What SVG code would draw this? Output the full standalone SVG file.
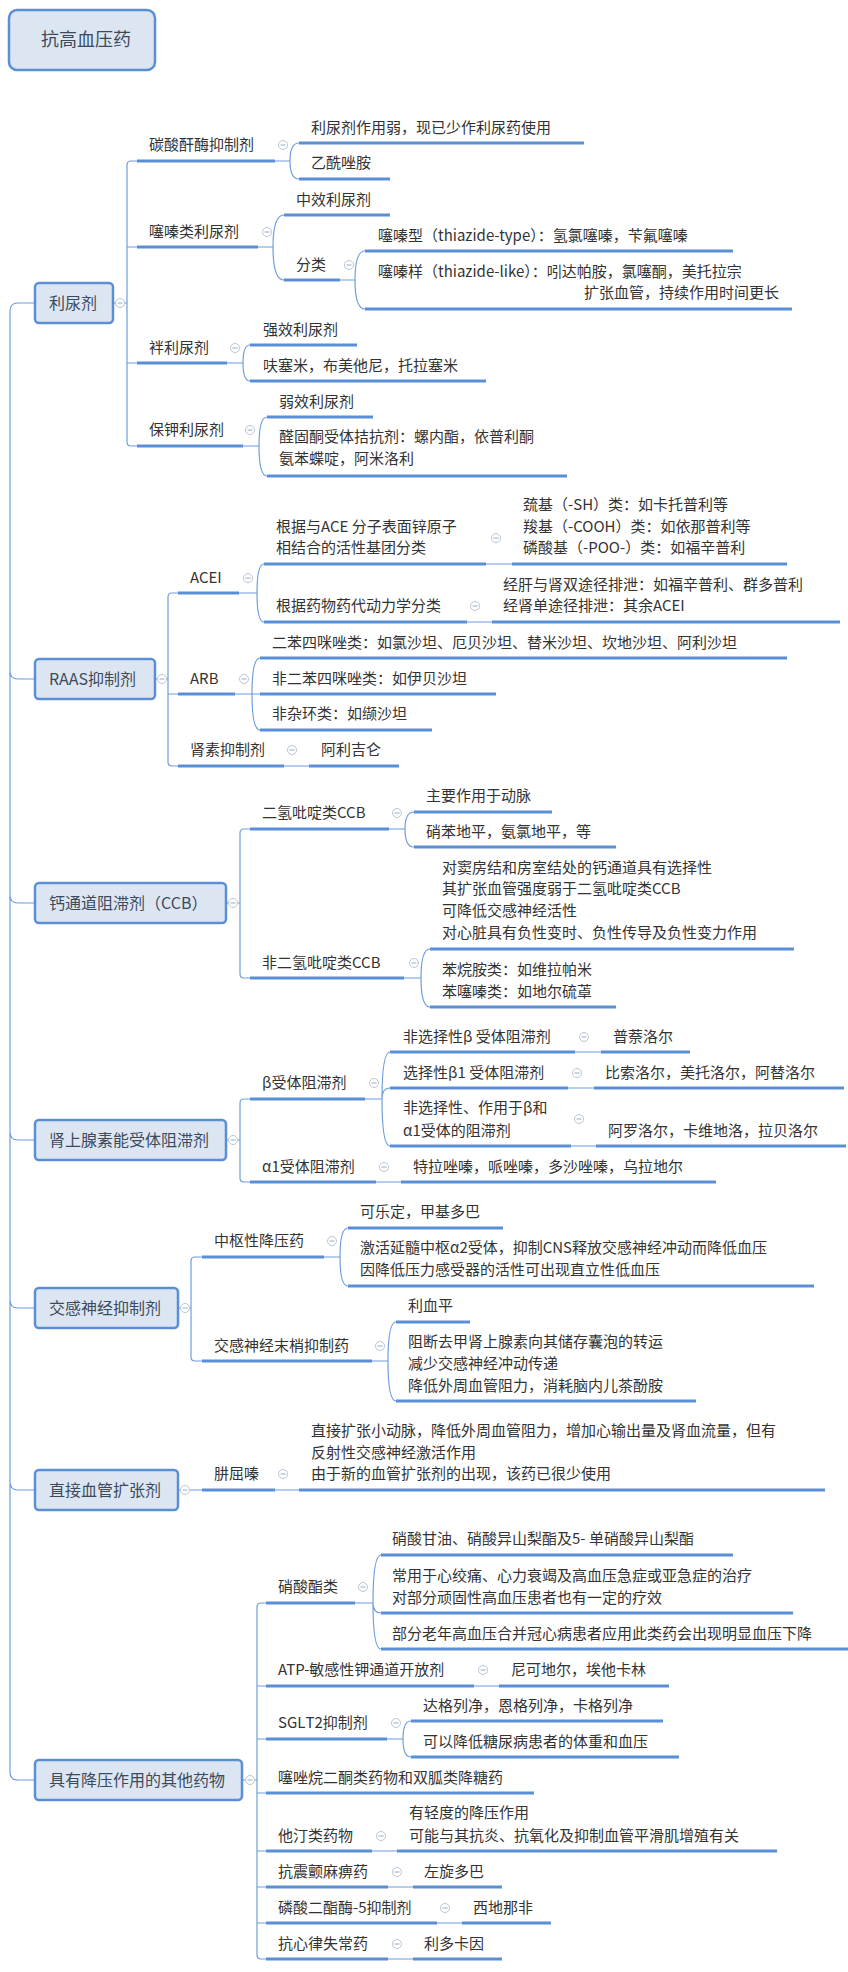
<svg xmlns="http://www.w3.org/2000/svg" width="848" height="1972" viewBox="0 0 848 1972">
<style>
text{font-family:"Noto Sans CJK SC","Liberation Sans",sans-serif;font-size:15px;fill:#333}
.b{font-size:16px;fill:#3c4a5c}
.r{font-size:18px;fill:#3c4a5c}
.box{fill:#dce6f2;stroke:#5a8fd6;stroke-width:2.5}
.u{stroke:#5a8fd6;stroke-width:3;fill:none}
.c{stroke:#6f9ddb;stroke-width:1.2;fill:none}
.k circle{fill:#fff;stroke:#b8c6d8;stroke-width:1}
.k line{stroke:#9aaabd;stroke-width:1}
</style>
<defs>
<g id="m" class="k"><circle r="4.5"/><line x1="-2.5" x2="2.5" y1="0" y2="0"/></g>
</defs>
<rect width="848" height="1972" fill="#fff"/>
<g id="root"><rect class="box" x="9" y="10" width="146" height="60" rx="8" stroke-width="3.5"/><text class="r" x="41" y="46">抗高血压药</text></g>

<g id="connectors">
<path class="c" d="M35,303 H18 Q10,303 10,311 V1772 Q10,1780 18,1780 H35 M10,671 Q10,679 18,679 H35 M10,895 Q10,903 18,903 H35 M10,1132 Q10,1140 18,1140 H35 M10,1300 Q10,1308 18,1308 H35 M10,1482 Q10,1490 18,1490 H35"/>
<!-- diuretics -->
<path class="c" d="M113,303 H127 M137,161 H131 Q127,161 127,165 V442 Q127,446 131,446 H137 M127,247 H137 M127,363 H137"/>
<path class="c" d="M275,161 H290 Q290,143 299,143 M290,161 Q290,179 299,179"/>
<path class="c" d="M258,247 H273 Q273,215 284,215 M273,247 Q273,280 284,280"/>
<path class="c" d="M340,280 H355 Q355,251 365,251 M355,280 Q355,309 365,309"/>
<path class="c" d="M227,363 H243 Q243,345 250,345 M243,363 Q243,381 250,381"/>
<path class="c" d="M243,446 H259 Q259,417 267,417 M259,446 Q259,476 267,476"/>
<!-- RAAS -->
<path class="c" d="M155,679 H168 M178,593 H172 Q168,593 168,597 V762 Q168,766 172,766 H178 M168,694 H178"/>
<path class="c" d="M239,593 H257 Q257,564 264,564 M257,593 Q257,622 264,622 M486,564 H512 M467,622 H492"/>
<path class="c" d="M235,694 H260 M252,694 Q252,658 260,658 M252,694 Q252,730 260,730 M284,766 H309"/>
<!-- CCB -->
<path class="c" d="M226,903 H240 M250,829 H244 Q240,829 240,833 V974 Q240,978 244,978 H250"/>
<path class="c" d="M389,829 H405 Q405,812 414,812 M405,829 Q405,847 414,847"/>
<path class="c" d="M404,978 H421 Q421,949 430,949 M421,978 Q421,1007 430,1007"/>
<!-- adrenergic -->
<path class="c" d="M226,1140 H240 M250,1099 H244 Q240,1099 240,1103 V1178 Q240,1182 244,1182 H250"/>
<path class="c" d="M365,1099 H382 Q382,1052 390,1052 M382,1099 Q382,1088 390,1088 M382,1099 Q382,1146 390,1146"/>
<path class="c" d="M575,1052 H601 M568,1088 H594 M571,1146 H596 M376,1182 H401"/>
<!-- sympathetic -->
<path class="c" d="M178,1308 H191 M202,1257 H195 Q191,1257 191,1261 V1357 Q191,1361 195,1361 H202"/>
<path class="c" d="M324,1257 H340 Q340,1228 348,1228 M340,1257 Q340,1286 348,1286"/>
<path class="c" d="M372,1361 H388 Q388,1322 396,1322 M388,1361 Q388,1401 396,1401"/>
<!-- vasodilator -->
<path class="c" d="M178,1490 H202 M275,1490 H299"/>
<!-- others -->
<path class="c" d="M242,1780 H257 M266,1603 H261 Q257,1603 257,1607 V1955 Q257,1959 261,1959 H266 M257,1686 H266 M257,1739 H266 M257,1793 H266 M257,1851 H266 M257,1887 H266 M257,1923 H266"/>
<path class="c" d="M355,1603 H373 Q373,1555 381,1555 M373,1603 Q373,1613 381,1613 M373,1603 Q373,1649 381,1649"/>
<path class="c" d="M474,1686 H499 M387,1739 H403 Q403,1721 411,1721 M403,1739 Q403,1757 411,1757 M372,1851 H397 M388,1887 H413 M437,1923 H462 M388,1959 H413"/>
</g>

<g id="n-diuretic"><rect class="box" x="35" y="283" width="78" height="40" rx="4"/><text class="b" x="49" y="309">利尿剂</text><use href="#m" x="120" y="303"/></g>
<g id="n-cai"><path class="u" d="M137,161 H275"/><text x="149" y="150">碳酸酐酶抑制剂</text><use href="#m" x="283" y="145"/>
<path class="u" d="M299,143 H584"/><text x="311" y="133">利尿剂作用弱，现已少作利尿药使用</text>
<path class="u" d="M299,179 H390"/><text x="311" y="168">乙酰唑胺</text></g>
<g id="n-thiazide"><path class="u" d="M137,247 H258"/><text x="149" y="237">噻嗪类利尿剂</text><use href="#m" x="267" y="232"/>
<path class="u" d="M284,215 H390"/><text x="296" y="205">中效利尿剂</text>
<path class="u" d="M284,280 H340"/><text x="296" y="270">分类</text><use href="#m" x="349" y="265"/>
<path class="u" d="M365,251 H733"/><text x="378" y="241">噻嗪型（thiazide-type）：氢氯噻嗪，苄氟噻嗪</text>
<path class="u" d="M365,309 H792"/><text x="378" y="277">噻嗪样（thiazide-like）：吲达帕胺，氯噻酮，美托拉宗</text><text x="779" y="298" text-anchor="end">扩张血管，持续作用时间更长</text></g>
<g id="n-loop"><path class="u" d="M137,363 H227"/><text x="149" y="353">袢利尿剂</text><use href="#m" x="235" y="348"/>
<path class="u" d="M250,345 H357"/><text x="263" y="335">强效利尿剂</text>
<path class="u" d="M250,381 H486"/><text x="263" y="371">呋塞米，布美他尼，托拉塞米</text></g>
<g id="n-ksparing"><path class="u" d="M137,446 H243"/><text x="149" y="435">保钾利尿剂</text><use href="#m" x="250" y="430"/>
<path class="u" d="M267,417 H373"/><text x="279" y="407">弱效利尿剂</text>
<path class="u" d="M267,476 H567"/><text x="279" y="442">醛固酮受体拮抗剂：螺内酯，依普利酮</text><text x="279" y="464">氨苯蝶啶，阿米洛利</text></g>

<g id="n-raas"><rect class="box" x="35" y="659" width="120" height="40" rx="4"/><text class="b" x="49" y="685">RAAS抑制剂</text><use href="#m" x="162" y="679"/></g>
<g id="n-acei"><path class="u" d="M178,593 H239"/><text x="190" y="583">ACEI</text><use href="#m" x="248" y="578"/>
<path class="u" d="M264,564 H486"/><text x="276" y="532">根据与ACE 分子表面锌原子</text><text x="276" y="553">相结合的活性基团分类</text><use href="#m" x="496" y="538"/>
<path class="u" d="M512,564 H787"/><text x="523" y="510">巯基（-SH）类：如卡托普利等</text><text x="523" y="532">羧基（-COOH）类：如依那普利等</text><text x="523" y="553">磷酸基（-POO-）类：如福辛普利</text>
<path class="u" d="M264,622 H467"/><text x="276" y="611">根据药物药代动力学分类</text><use href="#m" x="475" y="606"/>
<path class="u" d="M492,622 H840"/><text x="503" y="590">经肝与肾双途径排泄：如福辛普利、群多普利</text><text x="503" y="611">经肾单途径排泄：其余ACEI</text></g>
<g id="n-arb"><path class="u" d="M178,694 H235"/><text x="190" y="684">ARB</text><use href="#m" x="244" y="679"/>
<path class="u" d="M260,658 H787"/><text x="272" y="648">二苯四咪唑类：如氯沙坦、厄贝沙坦、替米沙坦、坎地沙坦、阿利沙坦</text>
<path class="u" d="M260,694 H496"/><text x="272" y="684">非二苯四咪唑类：如伊贝沙坦</text>
<path class="u" d="M260,730 H432"/><text x="272" y="719">非杂环类：如缬沙坦</text></g>
<g id="n-renin"><path class="u" d="M178,766 H284"/><text x="190" y="755">肾素抑制剂</text><use href="#m" x="292" y="750"/>
<path class="u" d="M309,766 H399"/><text x="321" y="755">阿利吉仑</text></g>

<g id="n-ccb"><rect class="box" x="35" y="883" width="191" height="40" rx="4"/><text class="b" x="49" y="909">钙通道阻滞剂（CCB）</text><use href="#m" x="233" y="903"/></g>
<g id="n-dhp"><path class="u" d="M250,829 H389"/><text x="262" y="818">二氢吡啶类CCB</text><use href="#m" x="397" y="813"/>
<path class="u" d="M414,812 H552"/><text x="426" y="801">主要作用于动脉</text>
<path class="u" d="M414,847 H616"/><text x="426" y="837">硝苯地平，氨氯地平，等</text></g>
<g id="n-ndhp"><path class="u" d="M250,978 H404"/><text x="262" y="968">非二氢吡啶类CCB</text><use href="#m" x="414" y="963"/>
<path class="u" d="M430,949 H794"/><text x="442" y="873">对窦房结和房室结处的钙通道具有选择性</text><text x="442" y="894">其扩张血管强度弱于二氢吡啶类CCB</text><text x="442" y="916">可降低交感神经活性</text><text x="442" y="938">对心脏具有负性变时、负性传导及负性变力作用</text>
<path class="u" d="M430,1007 H616"/><text x="442" y="975">苯烷胺类：如维拉帕米</text><text x="442" y="997">苯噻嗪类：如地尔硫䓬</text></g>

<g id="n-adr"><rect class="box" x="35" y="1120" width="191" height="40" rx="4"/><text class="b" x="49" y="1146">肾上腺素能受体阻滞剂</text><use href="#m" x="233" y="1140"/></g>
<g id="n-beta"><path class="u" d="M250,1099 H365"/><text x="262" y="1088">β受体阻滞剂</text><use href="#m" x="374" y="1083"/>
<path class="u" d="M390,1052 H575"/><text x="403" y="1042">非选择性β 受体阻滞剂</text><use href="#m" x="584" y="1037"/>
<path class="u" d="M601,1052 H690"/><text x="613" y="1042">普萘洛尔</text>
<path class="u" d="M390,1088 H568"/><text x="403" y="1078">选择性β1 受体阻滞剂</text><use href="#m" x="577" y="1073"/>
<path class="u" d="M594,1088 H844"/><text x="605" y="1078">比索洛尔，美托洛尔，阿替洛尔</text>
<path class="u" d="M390,1146 H571"/><text x="403" y="1113">非选择性、作用于β和</text><text x="403" y="1136">α1受体的阻滞剂</text><use href="#m" x="579" y="1119"/>
<path class="u" d="M596,1146 H846"/><text x="608" y="1136">阿罗洛尔，卡维地洛，拉贝洛尔</text></g>
<g id="n-alpha"><path class="u" d="M250,1182 H376"/><text x="262" y="1172">α1受体阻滞剂</text><use href="#m" x="384" y="1167"/>
<path class="u" d="M401,1182 H716"/><text x="413" y="1172">特拉唑嗪，哌唑嗪，多沙唑嗪，乌拉地尔</text></g>

<g id="n-symp"><rect class="box" x="35" y="1288" width="143" height="40" rx="4"/><text class="b" x="49" y="1314">交感神经抑制剂</text><use href="#m" x="185" y="1308"/></g>
<g id="n-central"><path class="u" d="M202,1257 H324"/><text x="214" y="1246">中枢性降压药</text><use href="#m" x="332" y="1241"/>
<path class="u" d="M348,1228 H503"/><text x="360" y="1217">可乐定，甲基多巴</text>
<path class="u" d="M348,1286 H814"/><text x="360" y="1253">激活延髓中枢α2受体，抑制CNS释放交感神经冲动而降低血压</text><text x="360" y="1275">因降低压力感受器的活性可出现直立性低血压</text></g>
<g id="n-periph"><path class="u" d="M202,1361 H372"/><text x="214" y="1351">交感神经末梢抑制药</text><use href="#m" x="380" y="1346"/>
<path class="u" d="M396,1322 H470"/><text x="408" y="1311">利血平</text>
<path class="u" d="M396,1401 H696"/><text x="408" y="1347">阻断去甲肾上腺素向其储存囊泡的转运</text><text x="408" y="1369">减少交感神经冲动传递</text><text x="408" y="1391">降低外周血管阻力，消耗脑内儿茶酚胺</text></g>

<g id="n-vaso"><rect class="box" x="35" y="1470" width="143" height="40" rx="4"/><text class="b" x="49" y="1496">直接血管扩张剂</text><use href="#m" x="185" y="1490"/>
<path class="u" d="M202,1490 H275"/><text x="214" y="1479">肼屈嗪</text><use href="#m" x="283" y="1474"/>
<path class="u" d="M299,1490 H825"/><text x="311" y="1436">直接扩张小动脉，降低外周血管阻力，增加心输出量及肾血流量，但有</text><text x="311" y="1458">反射性交感神经激活作用</text><text x="311" y="1479">由于新的血管扩张剂的出现，该药已很少使用</text></g>

<g id="n-other"><rect class="box" x="35" y="1760" width="207" height="40" rx="4"/><text class="b" x="49" y="1786">具有降压作用的其他药物</text><use href="#m" x="250" y="1780"/></g>
<g id="n-nitrate"><path class="u" d="M266,1603 H355"/><text x="278" y="1592">硝酸酯类</text><use href="#m" x="363" y="1587"/>
<path class="u" d="M381,1555 H733"/><text x="392" y="1544">硝酸甘油、硝酸异山梨酯及5- 单硝酸异山梨酯</text>
<path class="u" d="M381,1613 H793"/><text x="392" y="1581">常用于心绞痛、心力衰竭及高血压急症或亚急症的治疗</text><text x="392" y="1603">对部分顽固性高血压患者也有一定的疗效</text>
<path class="u" d="M381,1649 H848"/><text x="392" y="1639">部分老年高血压合并冠心病患者应用此类药会出现明显血压下降</text></g>
<g id="n-atp"><path class="u" d="M266,1686 H474"/><text x="278" y="1675">ATP-敏感性钾通道开放剂</text><use href="#m" x="483" y="1670"/>
<path class="u" d="M499,1686 H669"/><text x="511" y="1675">尼可地尔，埃他卡林</text></g>
<g id="n-sglt2"><path class="u" d="M266,1739 H387"/><text x="278" y="1728">SGLT2抑制剂</text><use href="#m" x="396" y="1723"/>
<path class="u" d="M411,1721 H663"/><text x="423" y="1711">达格列净，恩格列净，卡格列净</text>
<path class="u" d="M411,1757 H679"/><text x="423" y="1747">可以降低糖尿病患者的体重和血压</text></g>
<g id="n-tzd"><path class="u" d="M266,1793 H534"/><text x="278" y="1783">噻唑烷二酮类药物和双胍类降糖药</text></g>
<g id="n-statin"><path class="u" d="M266,1851 H372"/><text x="278" y="1841">他汀类药物</text><use href="#m" x="381" y="1836"/>
<path class="u" d="M397,1851 H777"/><text x="409" y="1818">有轻度的降压作用</text><text x="409" y="1841">可能与其抗炎、抗氧化及抑制血管平滑肌增殖有关</text></g>
<g id="n-park"><path class="u" d="M266,1887 H388"/><text x="278" y="1877">抗震颤麻痹药</text><use href="#m" x="397" y="1872"/>
<path class="u" d="M413,1887 H502"/><text x="424" y="1877">左旋多巴</text></g>
<g id="n-pde5"><path class="u" d="M266,1923 H437"/><text x="278" y="1913">磷酸二酯酶-5抑制剂</text><use href="#m" x="445" y="1908"/>
<path class="u" d="M462,1923 H551"/><text x="473" y="1913">西地那非</text></g>
<g id="n-arrhy"><path class="u" d="M266,1959 H388"/><text x="278" y="1949">抗心律失常药</text><use href="#m" x="397" y="1944"/>
<path class="u" d="M413,1959 H502"/><text x="424" y="1949">利多卡因</text></g>
</svg>
